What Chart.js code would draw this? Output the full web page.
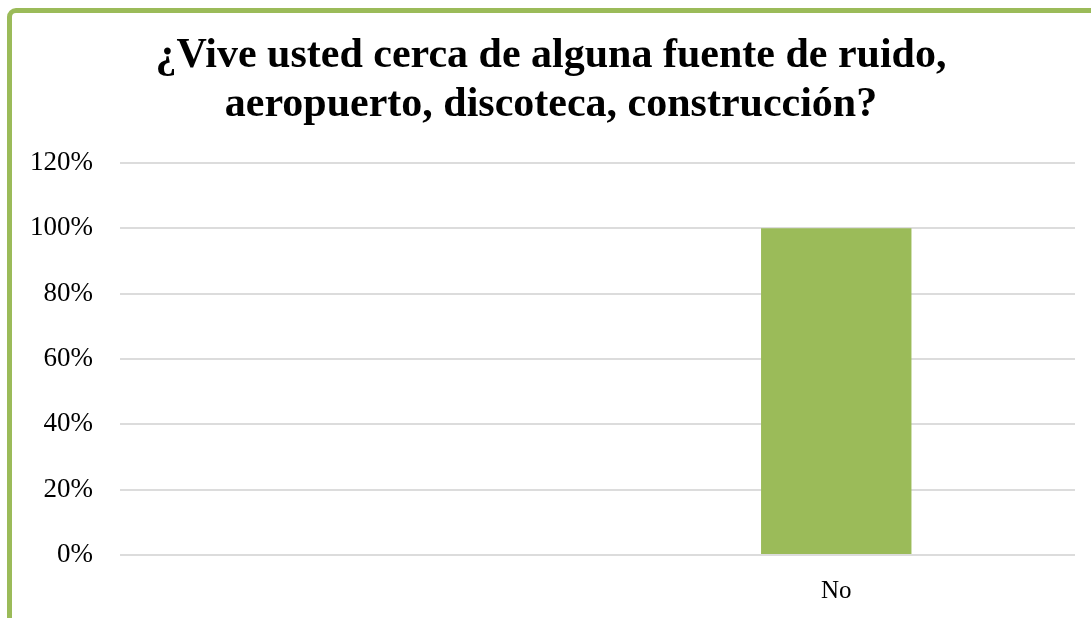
<!DOCTYPE html>
<html>
<head>
<meta charset="utf-8">
<script src="https://cdn.jsdelivr.net/npm/chart.js@4/dist/chart.umd.min.js"></script>
<style>
  html, body { margin: 0; padding: 0; background: #ffffff; overflow: hidden; }
  #wrap { position: relative; width: 1091px; height: 618px; overflow: hidden; }
  #frame { position: absolute; left: 7px; top: 8px; width: 2000px; height: 2000px;
           border: 5px solid #9bbb59; border-radius: 9px; box-sizing: border-box; }
  #c { position: absolute; left: 0; top: 0; }
</style>
</head>
<body>
<div id="wrap">
  <div id="frame"></div>
  <canvas id="c" width="1091" height="618"></canvas>
</div>
<script>
const titleLines = ["¿Vive usted cerca de alguna fuente de ruido,", "aeropuerto, discoteca, construcción?"];
const categories = ["", "No"];
const percentValues = [0, 100];
const yTickMax = 120;
const yTickStep = 20;

const serif = "'Liberation Serif', 'Times New Roman', serif";

new Chart(document.getElementById('c'), {
  type: 'bar',
  data: {
    labels: categories,
    datasets: [{
      data: percentValues,
      backgroundColor: '#9bbb59',
      borderWidth: 0,
      categoryPercentage: 1.0,
      barPercentage: 0.315
    }]
  },
  options: {
    responsive: false,
    animation: false,
    layout: { padding: { left: 27, right: 16, top: 0, bottom: 0 } },
    plugins: {
      legend: { display: false },
      tooltip: { enabled: false },
      title: {
        display: true,
        text: titleLines,
        color: '#000000',
        font: { family: serif, size: 42, weight: 'bold', lineHeight: 1.167 },
        padding: { top: 32, bottom: 33 }
      }
    },
    scales: {
      x: {
        grid: { display: false },
        border: { display: false },
        ticks: { color: '#000000', font: { family: serif, size: 25 }, padding: 13 },
        afterFit: (s) => { s.height = 63; }
      },
      y: {
        min: 0,
        max: yTickMax,
        border: { display: false },
        grid: { color: '#dcdcdc', lineWidth: 2, drawTicks: false },
        ticks: {
          stepSize: yTickStep,
          color: '#000000',
          padding: 27,
          font: { family: serif, size: 27 },
          callback: (v) => v + '%'
        },
        afterFit: (s) => { s.width = 93; }
      }
    }
  }
});
</script>
</body>
</html>
